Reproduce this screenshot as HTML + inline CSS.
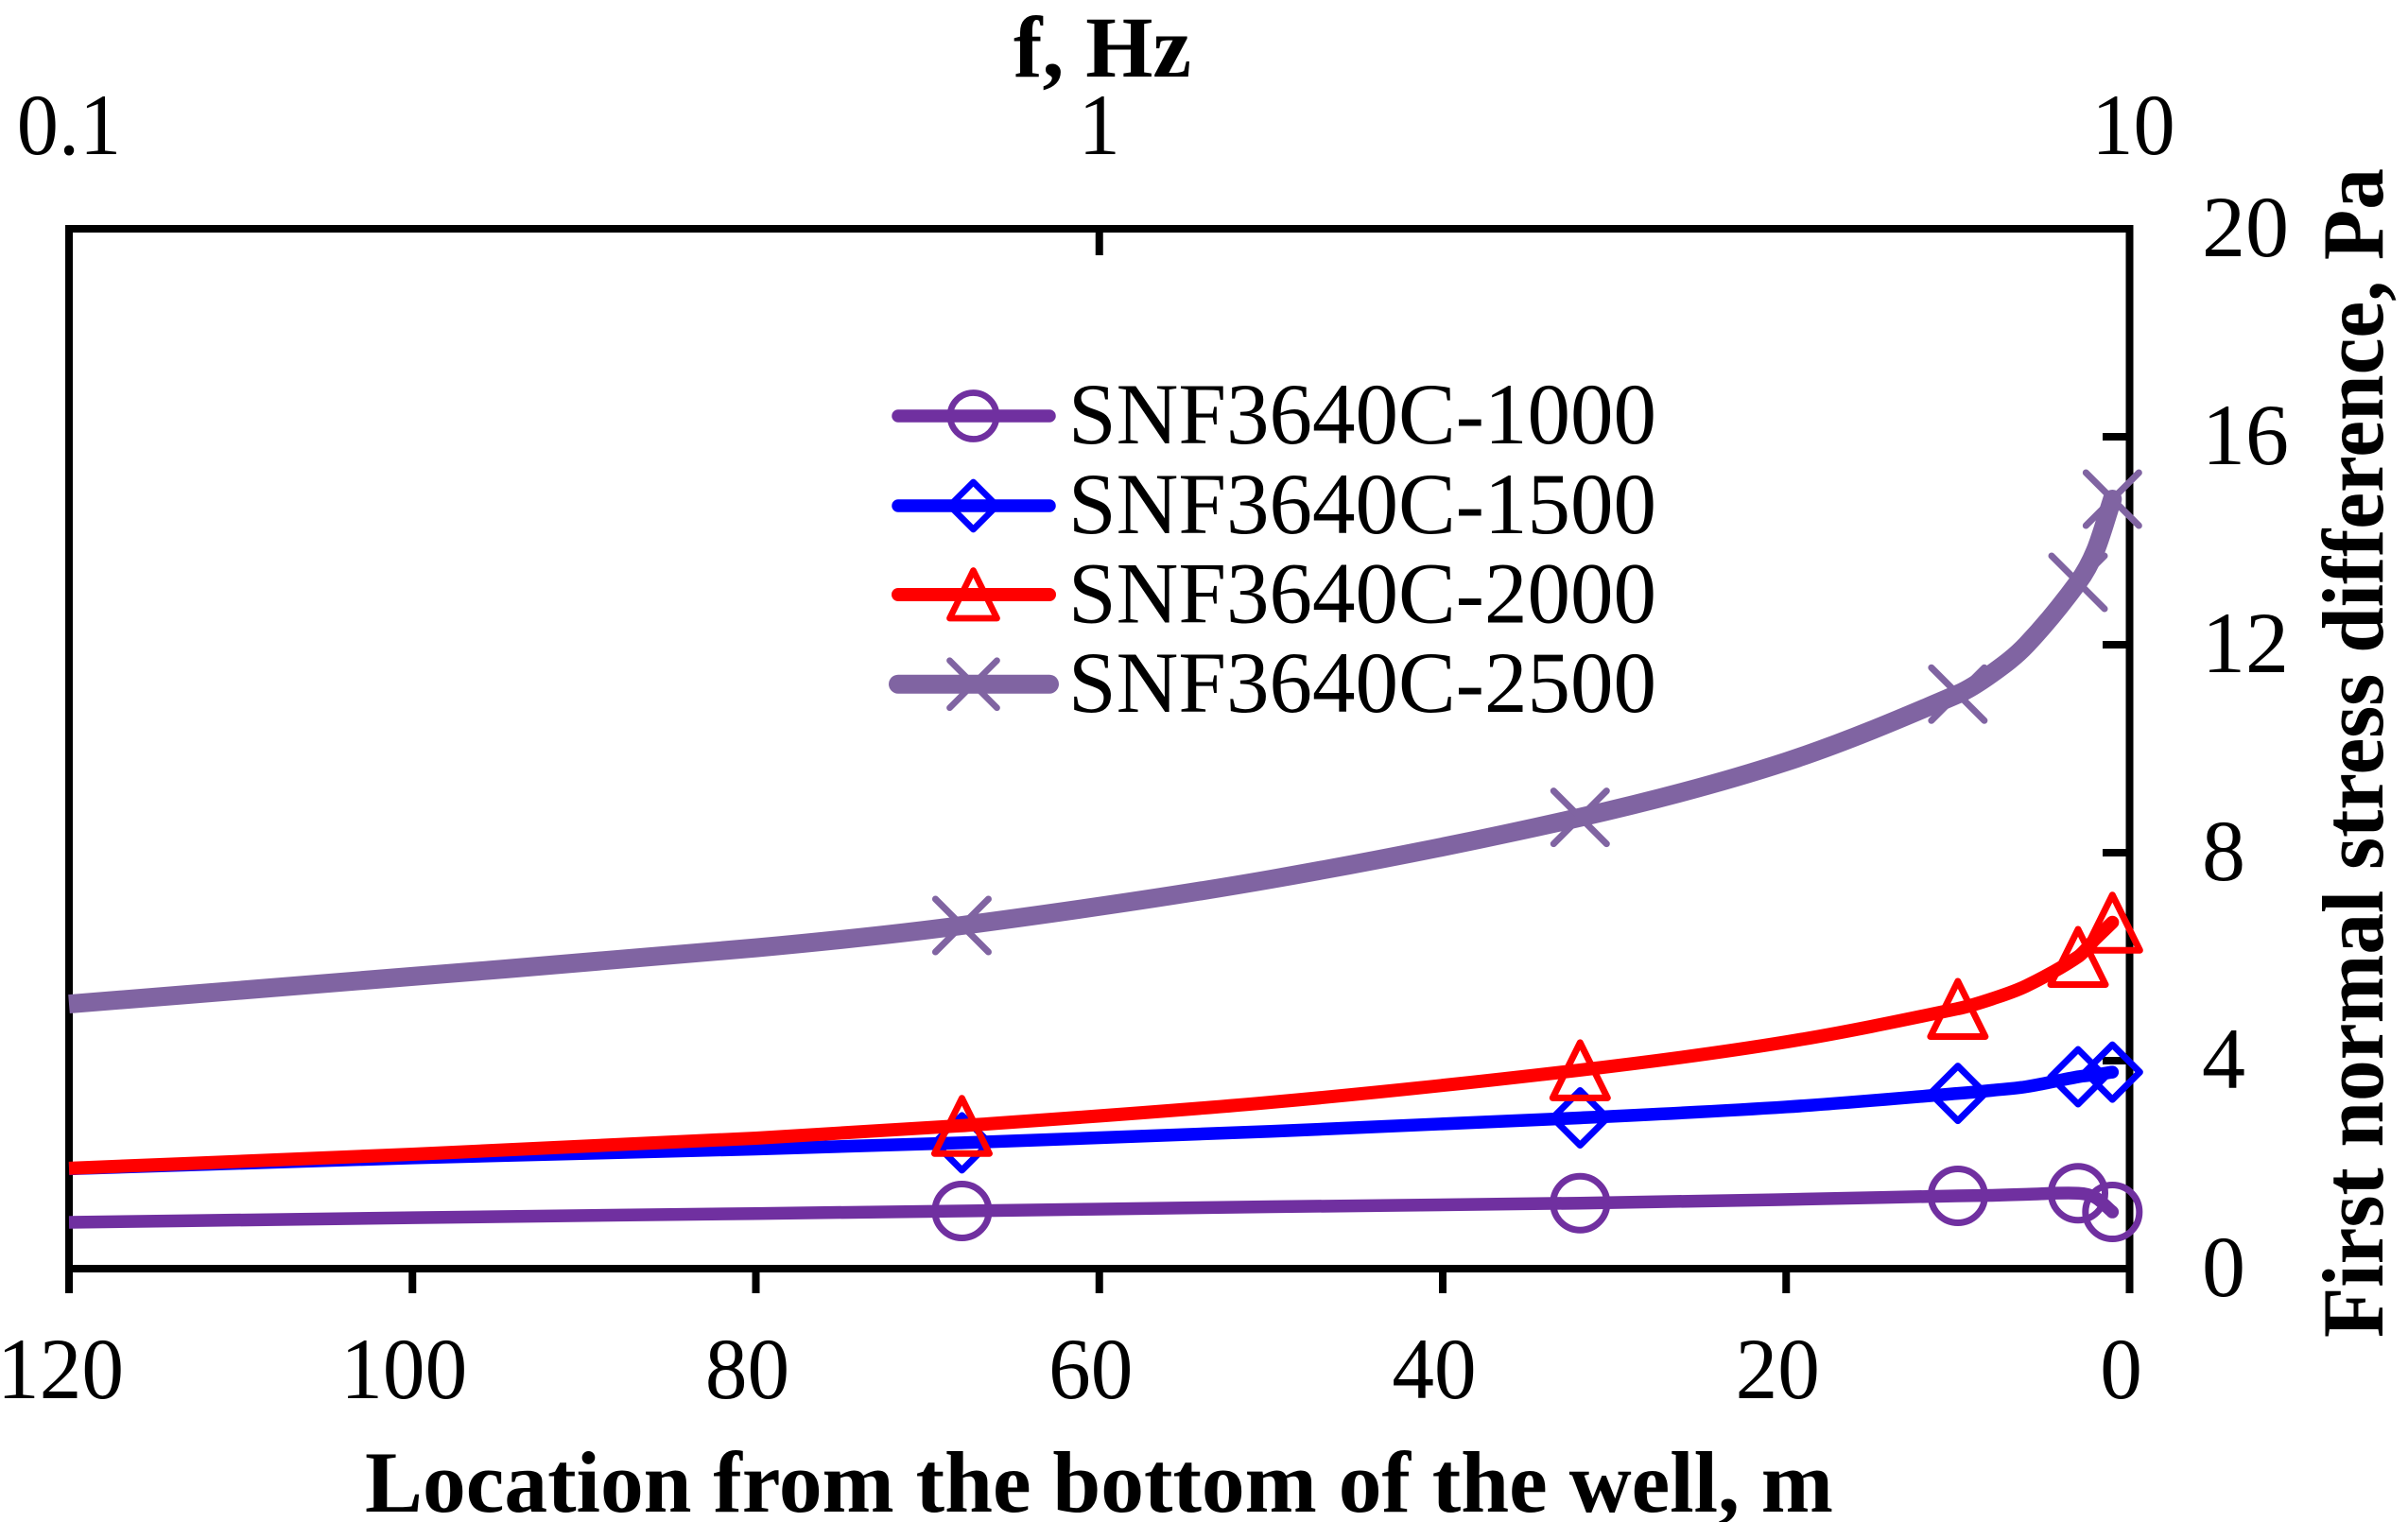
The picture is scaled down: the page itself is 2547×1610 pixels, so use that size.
<!DOCTYPE html>
<html lang="en">
<head>
<meta charset="utf-8">
<title>First normal stress difference vs location</title>
<style>
html,body{margin:0;padding:0;background:#fff;width:2547px;height:1610px;overflow:hidden}
svg{display:block}
text{font-family:"Liberation Serif","Times New Roman",serif;fill:#000}
.tick{font-size:92px}
.title{font-size:92px;font-weight:bold}
</style>
</head>
<body>
<svg id="chart" xmlns="http://www.w3.org/2000/svg" width="2547" height="1610" viewBox="0 0 2547 1610">
  <rect x="0" y="0" width="2547" height="1610" fill="#fff"/>
  <rect x="73" y="242" width="2179.5" height="1100" fill="none" stroke="#000" stroke-width="8"/>
  <g id="axes"></g>
  <g id="series"></g>

  <text class="title" x="1072" y="81" textLength="188" lengthAdjust="spacingAndGlyphs">f, Hz</text>
  <text class="title" x="386" y="1599" textLength="1553" lengthAdjust="spacingAndGlyphs">Location from the bottom of the well, m</text>
  <text class="title" transform="translate(2520 1415) rotate(-90)" x="0" y="0" textLength="1237" lengthAdjust="spacingAndGlyphs">First normal stress difference, Pa</text>

  <g>
    <g>
      <line x1="950" y1="440" x2="1110" y2="440" stroke="#7030A0" stroke-width="13.500" stroke-linecap="round"/>
      <circle cx="1029.500" cy="440" r="24.500" fill="none" stroke="#7030A0" stroke-width="6.700"/>
      <text class="tick" x="1130" y="469" textLength="622" lengthAdjust="spacingAndGlyphs">SNF3640C-1000</text>
    </g>
    <g>
      <line x1="950" y1="535" x2="1110" y2="535" stroke="#0000FF" stroke-width="13.500" stroke-linecap="round"/>
      <path d="M1029.500 510L1054.500 535L1029.500 560L1004.500 535Z" fill="none" stroke="#0000FF" stroke-width="6.700" stroke-linejoin="round"/>
      <text class="tick" x="1130" y="564" textLength="622" lengthAdjust="spacingAndGlyphs">SNF3640C-1500</text>
    </g>
    <g>
      <line x1="950" y1="629" x2="1110" y2="629" stroke="#FF0000" stroke-width="14" stroke-linecap="round"/>
      <path d="M1029.500 603.500L1054.500 654L1004.500 654Z" fill="none" stroke="#FF0000" stroke-width="6.700" stroke-linejoin="round"/>
      <text class="tick" x="1130" y="658.500" textLength="622" lengthAdjust="spacingAndGlyphs">SNF3640C-2000</text>
    </g>
    <g>
      <line x1="950" y1="723.700" x2="1110" y2="723.700" stroke="#8064A2" stroke-width="20" stroke-linecap="round"/>
      <path d="M1004.500 698.700L1054.500 748.700M1054.500 698.700L1004.500 748.700" fill="none" stroke="#8064A2" stroke-width="6.700" stroke-linecap="round"/>
      <text class="tick" x="1130" y="753" textLength="622" lengthAdjust="spacingAndGlyphs">SNF3640C-2500</text>
    </g>
  </g>
</svg>
<script>
// Chart data
const depthTicks = [120, 100, 80, 60, 40, 20, 0];
const stressTicks = [0, 4, 8, 12, 16, 20];
const freqTicks = [0.1, 1, 10];

// Depths (m) at which each curve was read
const depths = [120, 100, 80, 68, 50, 32, 20, 10, 8, 6, 3, 2, 1];
// Depths that carry a marker
const markerDepths = [68, 32, 10, 3, 1];

const snf1000 = [0.89, 0.98, 1.06, 1.11, 1.19, 1.26, 1.33, 1.40, 1.41, 1.43, 1.45, 1.37, 1.09];
const snf1500 = [1.92, 2.13, 2.30, 2.42, 2.64, 2.90, 3.11, 3.37, 3.43, 3.50, 3.69, 3.73, 3.78];
const snf2000 = [1.93, 2.20, 2.51, 2.75, 3.20, 3.82, 4.36, 5.00, 5.19, 5.44, 6.00, 6.34, 6.66];
const snf2500 = [5.09, 5.62, 6.17, 6.60, 7.49, 8.68, 9.75, 11.05, 11.45, 12.00, 13.20, 13.80, 14.80];

// Axis functions
const xOf = function (d) { return 2252.5 - d * (2179.5 / 120); };
const yOf = function (v) { return 1342 - v * 55; };
const xOfFreq = function (f) { return 73 + (Math.log10(f) + 1) * (2179.5 / 2); };

const NS = 'http://www.w3.org/2000/svg';
const axes = document.getElementById('axes');
const seriesGroup = document.getElementById('series');

function make(tag, attrs, parent) {
  const el = document.createElementNS(NS, tag);
  for (const k in attrs) el.setAttribute(k, attrs[k]);
  parent.appendChild(el);
  return el;
}

// Slightly condense tick labels to match the original glyph widths
function condense(el, k) {
  const len = el.getComputedTextLength();
  el.setAttribute('textLength', (len * k).toFixed(1));
  el.setAttribute('lengthAdjust', 'spacingAndGlyphs');
}

// Bottom axis ticks and labels
depthTicks.forEach(function (d) {
  const x = xOf(d);
  const t = make('line', { x1: x, y1: 1342, x2: x, y2: 1368, stroke: '#000', 'stroke-width': 8 }, axes);
  
  
  const l = make('text', { x: x - 9, y: 1479, 'text-anchor': 'middle', class: 'tick' }, axes);
  
  
  l.textContent = String(d);
  condense(l, 0.97);
});

// Right axis ticks and labels
stressTicks.forEach(function (v) {
  const y = yOf(v);
  if (v > 0 && v < 20) {
    const t = make('line', { x1: 2224, y1: y, x2: 2252, y2: y, stroke: '#000', 'stroke-width': 8 }, axes);
    
    
  }
  const l = make('text', { x: 2329, y: y + 29, class: 'tick' }, axes);
  
  
  l.textContent = String(v);
});

// Top axis ticks and labels
freqTicks.forEach(function (f) {
  const x = xOfFreq(f);
  if (f === 1) {
    const t = make('line', { x1: x, y1: 242, x2: x, y2: 270, stroke: '#000', 'stroke-width': 8 }, axes);
    
    
  }
  const shift = f === 10 ? 4 : 0;
  const l = make('text', { x: x + shift, y: 163, 'text-anchor': 'middle', class: 'tick' }, axes);
  
  
  l.textContent = String(f);
  condense(l, 0.96);
});

// Smooth path through points
function smoothPath(pts) {
  let d = 'M' + pts[0][0] + ' ' + pts[0][1];
  for (let i = 0; i < pts.length - 1; i++) {
    const p0 = pts[Math.max(i - 1, 0)];
    const p1 = pts[i];
    const p2 = pts[i + 1];
    const p3 = pts[Math.min(i + 2, pts.length - 1)];
    const dx = p2[0] - p1[0];
    const s1 = (p2[1] - p0[1]) / ((p2[0] - p0[0]) || 1);
    const s2 = (p3[1] - p1[1]) / ((p3[0] - p1[0]) || 1);
    d += 'C' + (p1[0] + dx / 3) + ' ' + (p1[1] + s1 * dx / 3) + ' ' +
         (p2[0] - dx / 3) + ' ' + (p2[1] - s2 * dx / 3) + ' ' + p2[0] + ' ' + p2[1];
  }
  return d;
}

function drawMarker(kind, g, x, y, color) {
  const style = { fill: 'none', stroke: color, 'stroke-width': 7, 'stroke-linejoin': 'round', 'stroke-linecap': 'round' };
  let el;
  if (kind === 'circle') {
    el = make('circle', Object.assign({ cx: x, cy: y, r: 28.5 }, style), g);
  } else if (kind === 'diamond') {
    el = make('path', Object.assign({ d: 'M' + x + ' ' + (y - 29) + 'L' + (x + 29) + ' ' + y + 'L' + x + ' ' + (y + 29) + 'L' + (x - 29) + ' ' + y + 'Z' }, style), g);
  } else if (kind === 'triangle') {
    el = make('path', Object.assign({ d: 'M' + x + ' ' + (y - 29) + 'L' + (x + 29) + ' ' + (y + 29.5) + 'L' + (x - 29) + ' ' + (y + 29.5) + 'Z' }, style), g);
  } else {
    el = make('path', Object.assign({ d: 'M' + (x - 28) + ' ' + (y - 28) + 'L' + (x + 28) + ' ' + (y + 28) + 'M' + (x + 28) + ' ' + (y - 28) + 'L' + (x - 28) + ' ' + (y + 28) }, style), g);
  }
  return el;
}

function drawSeries(values, color, width, kind, name) {
  const g = make('g', {}, seriesGroup);
  
  
  const pts = depths.map(function (d, i) { return [xOf(d), yOf(values[i])]; });
  const line = make('path', { d: smoothPath(pts), fill: 'none', stroke: color, 'stroke-width': width, 'stroke-linecap': 'butt', 'stroke-linejoin': 'round' }, g);
  
  
  const last = pts[pts.length - 1];
  const cap = make('circle', { cx: last[0], cy: last[1], r: width / 2, fill: color }, g);
  
  
  markerDepths.forEach(function (d) {
    const i = depths.indexOf(d);
    const m = drawMarker(kind, g, xOf(d), yOf(values[i]), color);
    
    
  });
}

drawSeries(snf1000, '#7030A0', 13.5, 'circle', 'snf3640c-1000');
drawSeries(snf1500, '#0000FF', 13.5, 'diamond', 'snf3640c-1500');
drawSeries(snf2000, '#FF0000', 14, 'triangle', 'snf3640c-2000');
drawSeries(snf2500, '#8064A2', 20, 'cross', 'snf3640c-2500');
</script>
</body>
</html>
